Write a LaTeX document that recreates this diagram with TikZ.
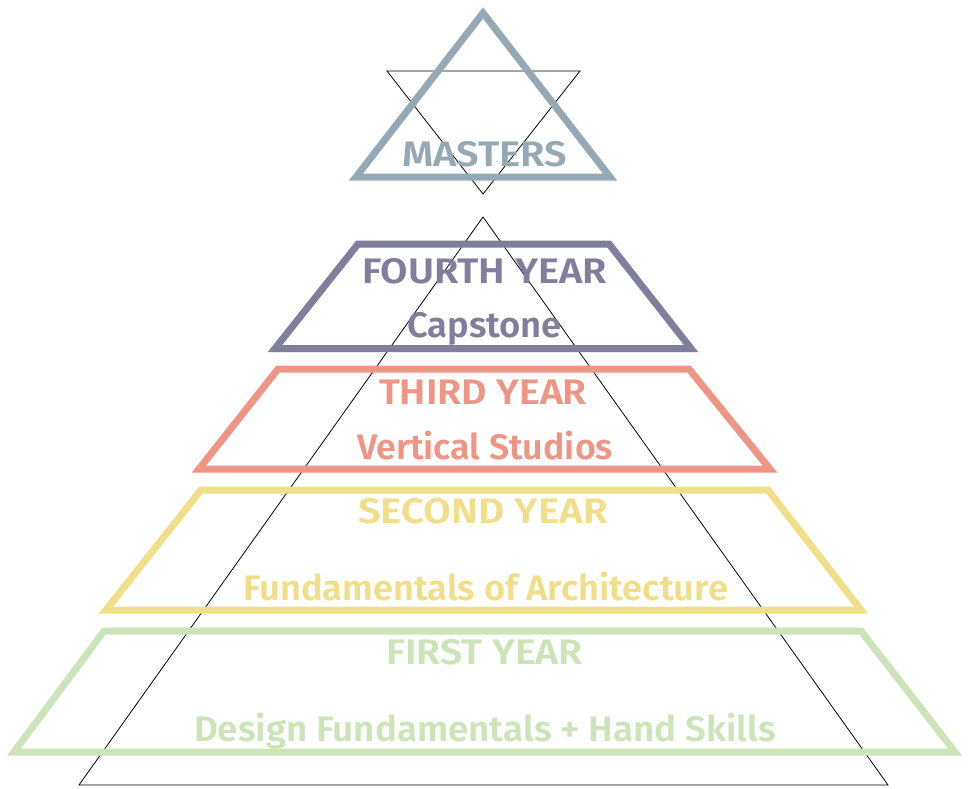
\documentclass[tikz,border=0pt]{standalone}
\usepackage{fontspec}
\setmainfont{Fira Sans}[UprightFont={* SemiBold}]
\usepackage{graphicx}
\definecolor{cmast}{HTML}{95A9B5}
\definecolor{cfour}{HTML}{7F7F9D}
\definecolor{cthree}{HTML}{EE9585}
\definecolor{ctwo}{HTML}{F0DF88}
\definecolor{cone}{HTML}{CCE4B8}
\newcommand\fitw[2]{\setbox0\hbox{#2}\pgfmathsetmacro\fitsc{#1/\wd0}\scalebox{\fitsc}[1]{\box0}}
\begin{document}
\begin{tikzpicture}[x=1pt,y=-1pt,
  thinline/.style={draw=black,line width=0.8pt,line join=miter},
  band/.style={line width=7pt,line join=miter},
  lab/.style={anchor=base,inner sep=0pt,font=\fontsize{35.5}{40}\selectfont}]
\useasboundingbox (0,0) rectangle (968,788);
% thin triangles
\draw[thinline] (483,217) -- (888,785) -- (79,785) -- cycle;
\draw[thinline] (387,71) -- (580,71) -- (483,194) -- cycle;
% masters
\draw[band,draw=cmast] (483,13) -- (610,177) -- (356,177) -- cycle;
% bands
\draw[band,draw=cfour] (358,244) -- (609,244) -- (691,348.5) -- (275,348.5) -- cycle;
\draw[band,draw=cthree] (278,369) -- (689,369) -- (770,469) -- (199,469) -- cycle;
\draw[band,draw=ctwo] (201,490) -- (768,490) -- (861,610) -- (106,610) -- cycle;
\draw[band,draw=cone] (104,631) -- (861,631) -- (955,752) -- (14,752) -- cycle;
% labels
\node[lab,text=cmast] (masters) at (484.5,166) {\fitw{165}{MASTERS}};
\node[lab,text=cfour] (fourth) at (484.5,283) {\fitw{245}{FOURTH YEAR}};
\node[lab,text=cfour] (capstone) at (484.5,337) {\fitw{155}{Capstone}};
\node[lab,text=cthree] (third) at (483,404) {\fitw{208}{THIRD YEAR}};
\node[lab,text=cthree] (vertical) at (485,459) {\fitw{256}{Vertical Studios}};
\node[lab,text=ctwo] (second) at (483,523) {\fitw{250}{SECOND YEAR}};
\node[lab,text=ctwo] (fund) at (485.5,600) {\fitw{485}{Fundamentals of Architecture}};
\node[lab,text=cone] (first) at (484.5,664) {\fitw{197}{FIRST YEAR}};
\node[lab,text=cone] (design) at (485,741) {\fitw{582}{Design Fundamentals + Hand Skills}};
\end{tikzpicture}
\end{document}
